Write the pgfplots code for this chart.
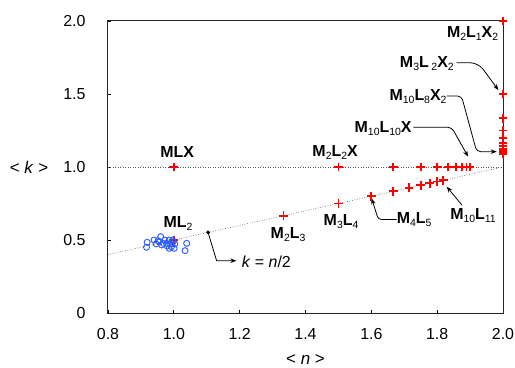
\documentclass[border=0pt]{standalone}
\usepackage{pgfplots}
\pgfplotsset{compat=1.18}
\usepackage{fontspec}
\setmainfont{Liberation Sans}
\usetikzlibrary{arrows.meta}
\definecolor{pred}{RGB}{255,0,0}
\definecolor{pblue}{RGB}{40,90,255}
\newcommand{\s}[1]{\raisebox{-0.35ex}{\fontsize{10.5}{11}\selectfont\mdseries #1}}
\begin{document}
\begin{tikzpicture}[
 lbl/.style={font=\bfseries\fontsize{16}{18}\selectfont, inner sep=0pt},
 arr/.style={-{Stealth[length=6bp,width=4.5bp]}, line width=0.8bp, black}]
\useasboundingbox (-108bp,-55bp) rectangle (407bp,313bp);
\begin{axis}[
 scale only axis, width=395bp, height=292bp,
 xmin=0.8, xmax=2.0, ymin=0, ymax=2.0,
 xtick={0.8,1,1.2,1.4,1.6,1.8,2},
 xticklabels={0.8,1.0,1.2,1.4,1.6,1.8,2.0},
 ytick={0,0.5,1,1.5,2},
 yticklabels={0,0.5,1.0,1.5,2.0},
 tick pos=left, tick align=inside, major tick length=3bp,
 axis line style={line width=1bp, black!85},
 major tick style={line width=0.8bp, black},
 ticklabel style={font=\fontsize{16}{18}\selectfont},
 xticklabel style={yshift=-12bp},
 yticklabel style={xshift=-19bp},
 every axis x label/.style={at={(rel axis cs:0.5,0)}, anchor=center, yshift=-47bp, font=\fontsize{17}{19}\selectfont},
 every axis y label/.style={at={(rel axis cs:0,0.5)}, anchor=center, xshift=-79bp, font=\fontsize{17}{19}\selectfont},
 xlabel={< \textit{n} >},
 ylabel={< \textit{k} >},
 clip=false,
 redplus/.style={only marks, mark=+, mark size=4.4bp, color=pred, draw=pred,
   mark options={draw=pred, color=pred, solid, line width=1.7bp}},
]
% reference lines
\addplot[gray!70!black, line width=0.6bp, dash pattern=on 0.7bp off 1.8bp, forget plot] coordinates {(0.8,1) (2.0,1)};
\addplot[gray!70!black, line width=0.6bp, dash pattern=on 0.7bp off 1.8bp, forget plot] coordinates {(0.8,0.4) (2.0,1.0)};
% red crosses
\addplot[redplus] table {
x y
1 1
1.5 1
1.6667 1
1.75 1
1.8 1
1.8333 1
1.8571 1
1.875 1
1.8889 1
1.9 1
};
\addplot[redplus] table {
x y
1 0.5
1.3333 0.6667
1.5 0.75
1.6 0.8
1.6667 0.8333
1.7143 0.8571
1.75 0.875
1.7778 0.8889
1.8 0.9
1.8182 0.9091
};
\addplot[redplus] table {
x y
2 2
2 1.5
2 1.3333
2 1.25
2 1.2
2 1.1667
2 1.1429
2 1.125
2 1.1111
2 1.1
2 1.0909
};
% blue circles
\addplot[only marks, mark=o, mark size=3bp, pblue, mark options={draw=pblue, solid, line width=0.9bp}] coordinates {
 (0.919,0.484) (0.917,0.450) (0.940,0.500) (0.946,0.473) (0.960,0.523) (0.956,0.486)
 (0.963,0.466) (0.973,0.500) (0.978,0.477) (0.986,0.500) (0.988,0.473) (0.993,0.454)
 (0.998,0.488) (1.001,0.443) (1.003,0.473) (0.986,0.443) (1.039,0.477) (1.034,0.427)
 (0.952,0.495) (0.968,0.477) (0.980,0.459) (0.996,0.500)};
% black dot
\addplot[only marks, mark=*, mark size=1.8bp, black] coordinates {(1.104,0.552)};
% labels
\node[lbl] at (axis cs:1.010,1.103) {MLX};
\node[lbl] at (axis cs:1.013,0.610) {ML\s{2}};
\node[lbl] at (axis cs:1.490,1.100) {M\s{2}L\s{2}X};
\node[lbl] at (axis cs:1.347,0.535) {M\s{2}L\s{3}};
\node[lbl] at (axis cs:1.508,0.628) {M\s{3}L\s{4}};
\node[lbl, anchor=west] at (axis cs:1.677,0.638) {M\s{4}L\s{5}};
\node[lbl] at (axis cs:1.909,0.665) {M\s{10}L\s{11}};
\node[lbl, anchor=east] at (axis cs:1.986,1.912) {M\s{2}L\s{1}X\s{2}};
\node[lbl, anchor=east] at (axis cs:1.851,1.706) {M\s{3}L\,\s{2}X\s{2}};
\node[lbl, anchor=east] at (axis cs:1.829,1.480) {M\s{10}L\s{8}X\s{2}};
\node[lbl, anchor=east] at (axis cs:1.723,1.265) {M\s{10}L\s{10}X};
\node[anchor=west, inner sep=0pt, font=\fontsize{16}{18}\selectfont] at (axis cs:1.206,0.349) {\textit{k} = \textit{n}/2};
% arrows
\draw[arr] (axis cs:1.104,0.552) -- (axis cs:1.130,0.358) -- (axis cs:1.190,0.358);
\draw[arr, rounded corners=3bp] (axis cs:1.677,0.641) -- (axis cs:1.621,0.641) -- (axis cs:1.601,0.785);
\draw[arr] (axis cs:1.875,0.740) -- (axis cs:1.829,0.865);
\draw[arr, rounded corners=8bp] (axis cs:1.859,1.714) -- (axis cs:1.925,1.714) -- (axis cs:1.986,1.527);
\draw[arr, rounded corners=4bp] (axis cs:1.829,1.486) -- (axis cs:1.874,1.486) -- (axis cs:1.920,1.105) -- (axis cs:1.981,1.105);
\draw[arr, rounded corners=4bp] (axis cs:1.728,1.272) -- (axis cs:1.844,1.272) -- (axis cs:1.894,1.071);
\end{axis}
\end{tikzpicture}
\end{document}
